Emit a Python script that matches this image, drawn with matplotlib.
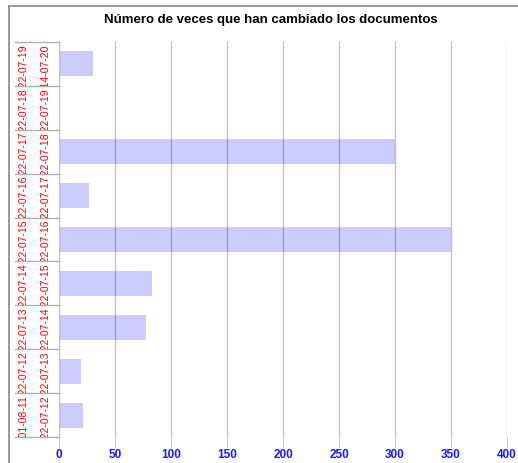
import matplotlib.pyplot as plt
from matplotlib.patches import Rectangle
from matplotlib.lines import Line2D

plt.rcParams['font.family'] = ['Liberation Sans', 'DejaVu Sans']

# ===== Data (bottom to top) =====
start_dates = ['2001-08-11', '2022-07-12', '2022-07-13', '2022-07-14', '2022-07-15',
               '2022-07-16', '2022-07-17', '2022-07-18', '2022-07-19']
end_dates = ['2022-07-12', '2022-07-13', '2022-07-14', '2022-07-15', '2022-07-16',
             '2022-07-17', '2022-07-18', '2022-07-19', '2014-07-20']
changes = [21, 20, 78, 83, 350, 27, 300, 0, 30]
x_ticks = [0, 50, 100, 150, 200, 250, 300, 350, 400]

W, H = 518, 463
fig = plt.figure(figsize=[W / 100, H / 100], dpi=100)

def px(x0, y0, x1, y1):
    # pixel box -> figure fraction [left, bottom, width, height]
    return [x0 / W, 1 - y1 / H, (x1 - x0) / W, (y1 - y0) / H]

# outer frame
fig.add_artist(Line2D([9 / W, 1], [1 - 6 / H, 1 - 6 / H], color='#888888', lw=1.2))
fig.add_artist(Line2D([9 / W, 9 / W], [0, 1 - 6 / H], color='#888888', lw=1.2))

fig.text(0.5 + 12 / W, 1 - 20 / H, 'Número de veces que han cambiado los documentos',
         ha='center', va='center', fontsize=9.5, fontweight='bold')

# ===== Main bars =====
ax = fig.add_axes(px(59, 42, 507, 437))
n = len(changes)
pos = list(range(n))
ax.set_axisbelow(True)
ax.grid(axis='x', color='#c4c4c4', lw=1)
ax.barh(pos, changes, height=0.57, color='blue', alpha=0.2)
ax.set_xlim(0, 400)
ax.set_ylim(-0.5, n - 0.5)
ax.set_xticks(x_ticks)
ax.set_xticklabels([str(t) for t in x_ticks], color='#1a1aff', fontweight='bold', fontsize=8.5)
ax.tick_params(axis='x', length=7, color='#c4c4c4', pad=2)
ax.set_yticks([])
for s in ['top', 'right', 'bottom']:
    ax.spines[s].set_visible(False)
ax.spines['left'].set_color('#c4c4c4')

# ===== Label box (clipped rotated labels) =====
lax = fig.add_axes(px(15, 42, 59, 437))
lax.set_xlim(0, 44)
lax.set_ylim(-0.5, n - 0.5)
lax.axis('off')
for i in range(n + 1):
    lax.plot([0, 44], [i - 0.5, i - 0.5], color='#b0b0b0', lw=1, clip_on=False)
for i in range(n):
    clip = Rectangle((0, i - 0.5), 44, 1, transform=lax.transData,
                     facecolor='none', edgecolor='none')
    lax.add_patch(clip)
    for xc, txt in [(8, start_dates[i]), (30, end_dates[i])]:
        t = lax.text(xc, i + 0.45, txt, rotation=90, ha='center', va='top',
                     color='red', fontsize=7.5, clip_on=True)
        t.set_clip_path(clip)

fig.savefig('out.png', dpi=100)
